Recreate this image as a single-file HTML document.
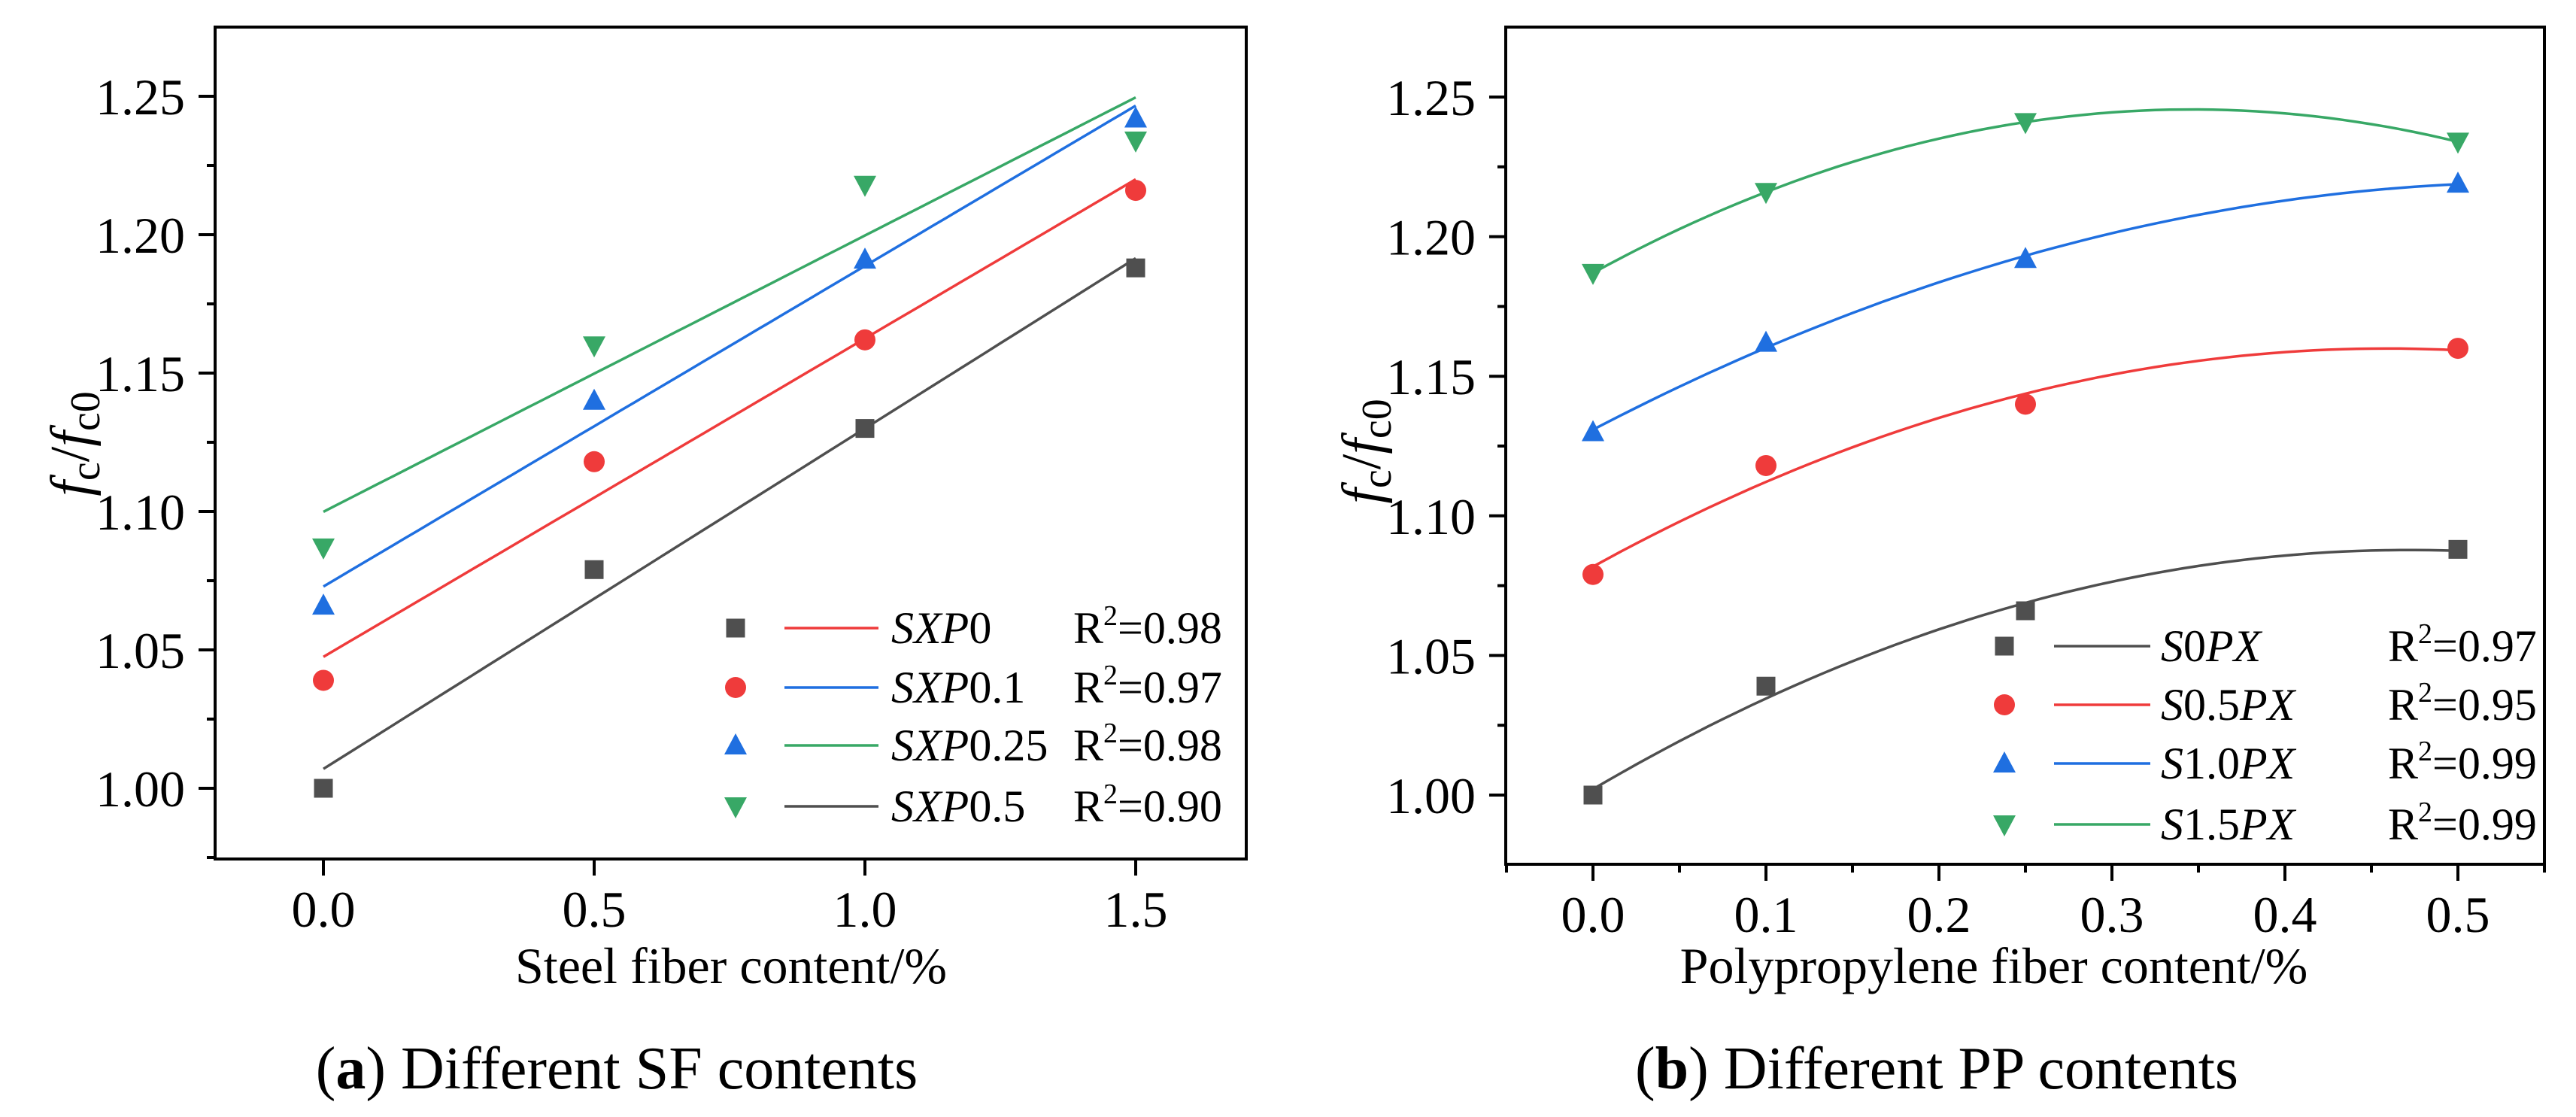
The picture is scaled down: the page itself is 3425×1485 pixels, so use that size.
<!DOCTYPE html>
<html><head><meta charset="utf-8"><style>
html,body{margin:0;padding:0;background:#fff}
svg{display:block}
text{font-family:"Liberation Serif",serif;fill:#000}
</style></head><body>
<svg id="fig" width="3425" height="1485" viewBox="0 0 3425 1485" xmlns="http://www.w3.org/2000/svg">
<g id="panelA"></g>
<g id="panelB"></g>
</svg>
<script>
// ---- Panel (a) data ----
const aX = [0, 0.5, 1.0, 1.5];
const aSquare = [1.000, 1.079, 1.130, 1.188];
const aCircle = [1.039, 1.118, 1.162, 1.216];
const aTriUp = [1.066, 1.140, 1.191, 1.242];
const aTriDown = [1.087, 1.160, 1.218, 1.234];
const aXTicks = [0, 0.5, 1.0, 1.5];
const aXTickLabels = ["0.0", "0.5", "1.0", "1.5"];
const yTicks = [1.00, 1.05, 1.10, 1.15, 1.20, 1.25];
const yTickLabels = ["1.00", "1.05", "1.10", "1.15", "1.20", "1.25"];
const aLegendNames = ["SXP|0", "SXP|0.1", "SXP|0.25", "SXP|0.5"];
const aLegendR2 = ["0.98", "0.97", "0.98", "0.90"];
// ---- Panel (b) data ----
const bX = [0, 0.1, 0.25, 0.5];
const bSquare = [1.000, 1.039, 1.066, 1.088];
const bCircle = [1.079, 1.118, 1.140, 1.160];
const bTriUp = [1.130, 1.162, 1.192, 1.219];
const bTriDown = [1.187, 1.216, 1.241, 1.234];
const bXTicks = [0, 0.1, 0.2, 0.3, 0.4, 0.5];
const bXTickLabels = ["0.0", "0.1", "0.2", "0.3", "0.4", "0.5"];
const bLegendNames = ["S0|PX", "S0.5|PX", "S1.0|PX", "S1.5|PX"];
const bLegendR2 = ["0.97", "0.95", "0.99", "0.99"];

const NS = "http://www.w3.org/2000/svg";
const COL = {k:"#4f4f4f", r:"#ef3b3b", b:"#1f6fe0", g:"#38a866"};
function mk(parent, tag, attrs){ const e=document.createElementNS(NS,tag); for(const k in attrs) e.setAttribute(k,attrs[k]); parent.appendChild(e); return e; }

function polyfit(xs, ys, deg){
  const n=deg+1, A=[], B=[];
  for(let i=0;i<n;i++){A.push([]);let s=0;for(let k=0;k<xs.length;k++)s+=Math.pow(xs[k],i)*ys[k];B.push(s);
    for(let j=0;j<n;j++){let t=0;for(let k=0;k<xs.length;k++)t+=Math.pow(xs[k],i+j);A[i].push(t);}}
  for(let i=0;i<n;i++){let p=i;for(let r=i+1;r<n;r++)if(Math.abs(A[r][i])>Math.abs(A[p][i]))p=r;
    [A[i],A[p]]=[A[p],A[i]];[B[i],B[p]]=[B[p],B[i]];
    for(let r=0;r<n;r++){if(r===i)continue;const f=A[r][i]/A[i][i];for(let c=i;c<n;c++)A[r][c]-=f*A[i][c];B[r]-=f*B[i];}}
  return B.map((v,i)=>v/A[i][i]);
}
function peval(c,x){let s=0;for(let i=0;i<c.length;i++)s+=c[i]*Math.pow(x,i);return s;}

function marker(g, type, cx, cy, color){
  let e;
  if(type==="square"){ e=mk(g,"rect",{x:cx-12.5,y:cy-12.5,width:25,height:25,fill:color}); }
  else if(type==="circle"){ e=mk(g,"circle",{cx:cx,cy:cy,r:14,fill:color}); }
  else if(type==="up"){ e=mk(g,"polygon",{points:`${cx},${cy-16} ${cx-15},${cy+12} ${cx+15},${cy+12}`,fill:color}); }
  else { e=mk(g,"polygon",{points:`${cx},${cy+16} ${cx-15},${cy-12} ${cx+15},${cy-12}`,fill:color}); }
  return e;
}

function panel(root, cfg){
  const X=v=>cfg.x0+(v-cfg.xmin)*cfg.xs, Y=v=>cfg.y0-(v-1.25)*cfg.ys;
  const ax=mk(root,"g",{});
  
  
  mk(ax,"path",{d:`M${cfg.L},${cfg.T}H${cfg.R}V${cfg.B}H${cfg.L}Z`,fill:"none",stroke:"#000","stroke-width":4});
  const yt=mk(root,"g",{});
  
  
  for(let v=0.975; v<=1.276; v+=0.025){
    const y=Y(v); if(y<cfg.T+2||y>cfg.B-2) continue;
    const major=Math.abs(Math.round(v*100)%5)<0.5;
    mk(yt,"line",{x1:cfg.L-(major?22:11),x2:cfg.L,y1:y,y2:y,stroke:"#000","stroke-width":4});
  }
  yTicks.forEach((v,i)=>{
    const t=mk(yt,"text",{x:cfg.L-40,y:Y(v)+24,"font-size":68,"text-anchor":"end"});
    
    
    t.textContent=yTickLabels[i];
  });
  const xt=mk(root,"g",{});
  
  
  cfg.minor.forEach(v=>{ const x=X(v); mk(xt,"line",{x1:x,x2:x,y1:cfg.B,y2:cfg.B+11,stroke:"#000","stroke-width":4}); });
  cfg.xticks.forEach((v,i)=>{
    const x=X(v);
    mk(xt,"line",{x1:x,x2:x,y1:cfg.B,y2:cfg.B+22,stroke:"#000","stroke-width":4});
    const t=mk(xt,"text",{x:x,y:cfg.B+90,"font-size":68,"text-anchor":"middle"});
    
    
    t.textContent=cfg.xlabels[i];
  });
  const xl=mk(root,"text",{x:cfg.xlx,y:1307,"font-size":68,"text-anchor":"middle"});
  
  
  xl.textContent=cfg.xtitle;
  const yl=mk(root,"text",{transform:`translate(${cfg.ylx},${cfg.yly}) rotate(-90)`,"font-size":74,"text-anchor":"middle"});
  
  
  yl.innerHTML='<tspan font-style="italic">f</tspan><tspan font-size="56" dy="14">c</tspan><tspan dy="-14">/</tspan><tspan font-style="italic">f</tspan><tspan font-size="56" dy="14">c0</tspan>';
  const cap=mk(root,"text",{x:cfg.capx,y:1447,"font-size":80,"text-anchor":"middle"});
  
  
  cap.innerHTML='(<tspan font-weight="bold">'+cfg.letter+'</tspan>) '+cfg.caption;
  const types=["square","circle","up","down"];
  const lineCols=cfg.lineCols;
  cfg.series.forEach((ys,si)=>{
    const c=polyfit(cfg.xs_data, ys, cfg.deg);
    let d=""; const N=60, x0=cfg.xs_data[0], x1=cfg.xs_data[cfg.xs_data.length-1];
    for(let k=0;k<=N;k++){const xv=x0+(x1-x0)*k/N; d+=(k?"L":"M")+X(xv).toFixed(1)+","+Y(peval(c,xv)).toFixed(1);}
    const p=mk(root,"path",{d:d,fill:"none",stroke:cfg.fitCols[si],"stroke-width":3.5});
    
    
  });
  cfg.series.forEach((ys,si)=>{
    const g=mk(root,"g",{});
    
    
    ys.forEach((v,i)=>{
      const m=marker(g,types[si],X(cfg.xs_data[i]),Y(v),cfg.markCols[si]);
      
      
    });
  });
  const lg=mk(root,"g",{});
  
  
  cfg.legRows.forEach((ry,i)=>{
    const row=mk(lg,"g",{});
    
    
    marker(row,types[i],cfg.legSym,ry,cfg.markCols[i]);
    mk(row,"line",{x1:cfg.legL1,x2:cfg.legL2,y1:ry,y2:ry,stroke:lineCols[i],"stroke-width":3.5});
    const parts=cfg.names[i].split("|");
    const t=mk(row,"text",{x:cfg.legT,y:ry+20,"font-size":60});
    if(cfg.letter==="a") t.innerHTML='<tspan font-style="italic">'+parts[0]+'</tspan>'+parts[1];
    else t.innerHTML='<tspan font-style="italic">'+parts[0].replace(/[0-9.]+/,'')+'</tspan>'+parts[0].replace(/[^0-9.]/g,'')+'<tspan font-style="italic">'+parts[1]+'</tspan>';
    const r=mk(row,"text",{x:cfg.legR,y:ry+20,"font-size":60});
    r.innerHTML='R<tspan font-size="38" dy="-24">2</tspan><tspan dy="24">='+cfg.r2[i]+'</tspan>';
  });
}

panel(document.getElementById("panelA"),{
  letter:"a", caption:"Different SF contents", capx:820,
  L:286,R:1657,T:36,B:1142, x0:430,xmin:0,xs:720, y0:128,ys:3680,
  xticks:aXTicks, xlabels:aXTickLabels, minor:[],
  xtitle:"Steel fiber content/%", xlx:972, ylx:118, yly:590,
  xs_data:aX, series:[aSquare,aCircle,aTriUp,aTriDown], deg:1,
  markCols:[COL.k,COL.r,COL.b,COL.g], fitCols:[COL.k,COL.r,COL.b,COL.g],
  lineCols:[COL.r,COL.b,COL.g,COL.k],
  legRows:[835,914,991,1072], legSym:978, legL1:1043, legL2:1168, legT:1185, legR:1427,
  names:aLegendNames, r2:aLegendR2
});
panel(document.getElementById("panelB"),{
  letter:"b", caption:"Different PP contents", capx:2575,
  L:2002,R:3383,T:36,B:1149, x0:2118,xmin:0,xs:2300, y0:129,ys:3712,
  xticks:bXTicks, xlabels:bXTickLabels, minor:[-0.05,0.05,0.15,0.25,0.35,0.45,0.55],
  xtitle:"Polypropylene fiber content/%", xlx:2651, ylx:1835, yly:600,
  xs_data:bX, series:[bSquare,bCircle,bTriUp,bTriDown], deg:2,
  markCols:[COL.k,COL.r,COL.b,COL.g], fitCols:[COL.k,COL.r,COL.b,COL.g],
  lineCols:[COL.k,COL.r,COL.b,COL.g],
  legRows:[859,937,1015,1096], legSym:2665, legL1:2731, legL2:2859, legT:2873, legR:3175,
  names:bLegendNames, r2:bLegendR2
});
</script>
</body></html>
